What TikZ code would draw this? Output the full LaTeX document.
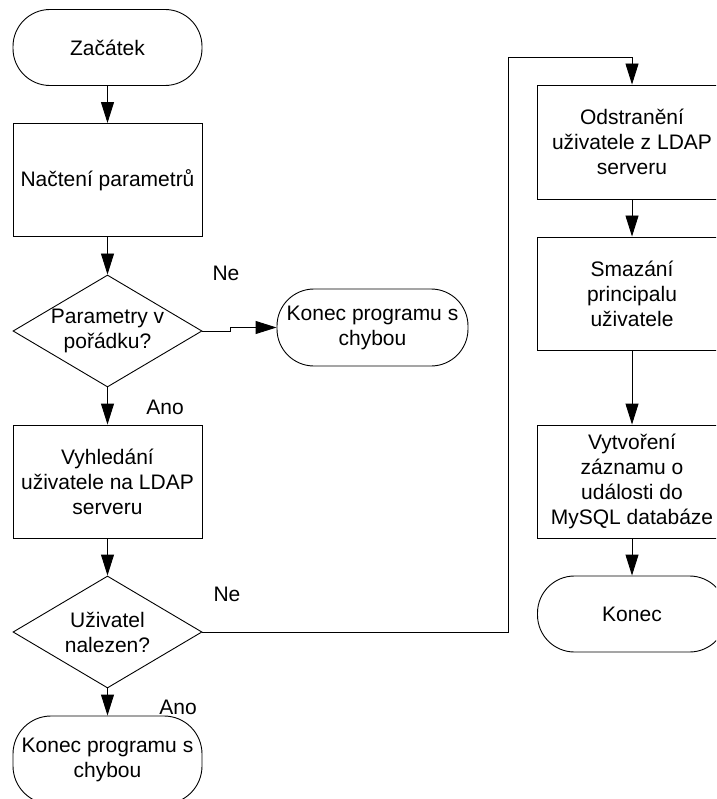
\documentclass[tikz,border=0pt]{standalone}
\usepackage{fontspec}
\setmainfont{Liberation Sans}
\usetikzlibrary{arrows.meta,shapes.geometric}
\begin{document}
\begin{tikzpicture}[x=1pt,y=-1pt,
  every node/.style={font=\fontsize{21}{25}\selectfont, align=center},
  proc/.style={draw, line width=0.9pt, minimum width=189pt, minimum height=113pt, inner sep=0pt},
  term/.style={draw, line width=0.9pt, rounded corners=37pt, minimum width=189pt, minimum height=76pt, inner sep=0pt},
  decision/.style={draw, diamond, aspect=1.69, line width=0.9pt, minimum width=189pt, minimum height=112pt, inner sep=0pt},
  flow/.style={line width=0.9pt, -{Triangle[length=21pt,width=13pt]}},
  lbl/.style={inner sep=0pt}]
\useasboundingbox (0,0) rectangle (716,799);
\clip (0,0) rectangle (716,799);

% left column
\node[term] (start) at (107.5,47.5) {Začátek};
\node[proc] (load) at (107.5,180) {Načtení parametrů};
\node[decision] (d1) at (107.5,331) {};
\node (d1t) at (d1.center) {Parametry v\\pořádku?};
\node[term, minimum width=191pt, minimum height=77pt] (e1) at (372.5,327.5) {Konec programu s\\chybou};
\node[proc] (search) at (107.5,481.5) {Vyhledání\\uživatele na LDAP\\serveru};
\node[decision] (d2) at (107.5,632) {};
\node (d2t) at (d2.center) {Uživatel\\nalezen?};
\node[term, minimum height=88pt, rounded corners=38pt] (e2) at (107.5,760) {Konec programu s\\chybou};

% right column
\node[proc, minimum height=114pt] (remove) at (632,142) {Odstranění\\uživatele z LDAP\\serveru};
\node[proc] (del) at (632,293.5) {Smazání\\principalu\\uživatele};
\node[proc] (log) at (632,481.5) {Vytvoření\\záznamu o\\události do\\MySQL databáze};
\node[term] (end) at (632,614) {Konec};

% bend points
\coordinate (j1) at (230,331);
\coordinate (j2) at (230,327.5);
\coordinate (r1) at (508,632);
\coordinate (r2) at (508,57);
\coordinate (r3) at (632,57);

% connectors
\draw[flow] (start) -- (load);
\draw[flow] (load) -- (d1);
\draw[flow] (d1.east) -- (j1) -- (j2) -- (e1.west);
\draw[flow] (d1.south) -- (search.north);
\draw[flow] (search) -- (d2);
\draw[flow] (d2.south) -- (e2.north);
\draw[flow] (d2.east) -- (r1) -- (r2) -- (r3) -- (remove.north);
\draw[flow] (remove) -- (del);
\draw[flow] (del) -- (log);
\draw[flow] (log) -- (end);

% branch labels
\node[lbl] (ne1) at (226,273) {Ne};
\node[lbl] (ano1) at (165,407) {Ano};
\node[lbl] (ne2) at (227,594) {Ne};
\node[lbl] (ano2) at (178,707) {Ano};
\end{tikzpicture}
\end{document}
